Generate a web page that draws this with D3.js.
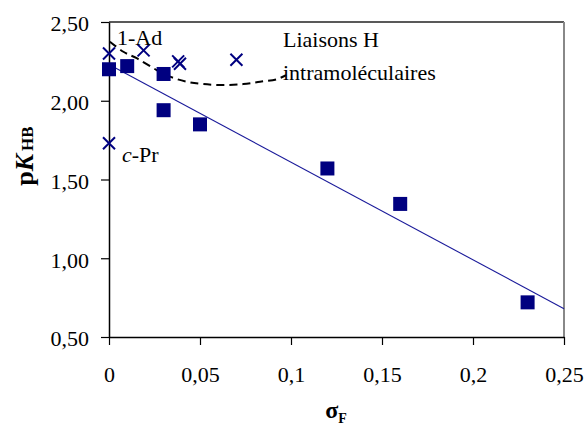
<!DOCTYPE html>
<html><head><meta charset="utf-8">
<script src="https://cdn.jsdelivr.net/npm/d3@7"></script>
<style>
html,body{margin:0;padding:0;background:#fff;}
svg{display:block;}
svg text{font-family:"Liberation Serif","Times New Roman","DejaVu Serif","Noto Serif",serif;}
</style></head>
<body>
<svg id="chart" width="588" height="428"></svg>
<script>
// Data
const squareX = [0, 0.01, 0.03, 0.03, 0.05, 0.12, 0.16, 0.23];
const squareY = [2.20, 2.22, 2.17, 1.94, 1.85, 1.57, 1.345, 0.72];
const crossX = [0, 0.019, 0.038, 0.039, 0.07, 0];
const crossY = [2.30, 2.32, 2.25, 2.235, 2.26, 1.73];
const trendX = [0, 0.25];
const trendY = [2.23, 0.68];
const curveX = [0.0005, 0.0079, 0.0152, 0.0262, 0.0335, 0.0427, 0.0518, 0.0628, 0.0738, 0.0830, 0.0921, 0.0973];
const curveY = [2.375, 2.311, 2.270, 2.195, 2.153, 2.121, 2.106, 2.100, 2.106, 2.121, 2.136, 2.163];
const xTicks = [0, 0.05, 0.1, 0.15, 0.2, 0.25];
const xTickLabels = ["0", "0,05", "0,1", "0,15", "0,2", "0,25"];
const yTicks = [0.5, 1.0, 1.5, 2.0, 2.5];
const yTickLabels = ["0,50", "1,00", "1,50", "2,00", "2,50"];

const svg = d3.select("#chart");
const L = 109, R = 564, T = 22, B = 337;
const x = d3.scaleLinear().domain([0, 0.25]).range([L, R]);
const y = d3.scaleLinear().domain([0.5, 2.5]).range([B, T]);
const navy = "#000080";
const serif = '"Liberation Serif","Times New Roman","DejaVu Serif","Noto Serif",serif';

// plot frame top and right
svg.append("line").attr("x1", L).attr("x2", R).attr("y1", T).attr("y2", T)
  .attr("stroke", "#222").attr("stroke-width", 1.5);
svg.append("line").attr("x1", R).attr("x2", R).attr("y1", T).attr("y2", B)
  .attr("stroke", "#888").attr("stroke-width", 2);

// axes
const yAxis = d3.axisLeft(y).tickValues(yTicks)
  .tickFormat((d, i) => yTickLabels[i]).tickSize(8).tickSizeOuter(0).tickPadding(12);
const gy = svg.append("g").attr("transform", `translate(${L},0)`).call(yAxis);
const xAxis = d3.axisBottom(x).tickValues(xTicks)
  .tickFormat((d, i) => xTickLabels[i]).tickSize(8).tickSizeOuter(0).tickPadding(21);
const gx = svg.append("g").attr("transform", `translate(0,${B})`).call(xAxis);
[gx, gy].forEach(g => {
  g.attr("font-family", null);
  g.select(".domain").attr("stroke", "#000").attr("stroke-width", 1.5);
  g.selectAll(".tick line").attr("stroke", "#000").attr("stroke-width", 1.2);
  g.selectAll("text").style("font-family", serif)
    .attr("font-size", 22).attr("fill", "#000");
});
gy.selectAll("text").attr("dy", "0.4em");

// trend line
svg.append("line")
  .attr("x1", x(trendX[0])).attr("y1", y(trendY[0]))
  .attr("x2", x(trendX[1])).attr("y2", y(trendY[1]))
  .attr("stroke", "#1a1a9a").attr("stroke-width", 1.1);

// dashed curve
svg.append("path")
  .datum(curveX.map((d, i) => [d, curveY[i]]))
  .attr("d", d3.line().x(d => x(d[0])).y(d => y(d[1])).curve(d3.curveCatmullRom))
  .attr("fill", "none").attr("stroke", "#000").attr("stroke-width", 2)
  .attr("stroke-dasharray", "8,5");

// squares
const sq = 14;
svg.selectAll("rect.sq").data(squareX.map((d, i) => [d, squareY[i]])).enter()
  .append("rect").attr("class", "sq")
  .attr("x", d => x(d[0]) - sq / 2).attr("y", d => y(d[1]) - sq / 2)
  .attr("width", sq).attr("height", sq).attr("fill", navy);

// crosses
const cs = 6;
const cr = svg.selectAll("g.cr").data(crossX.map((d, i) => [d, crossY[i]])).enter()
  .append("g").attr("class", "cr")
  .attr("transform", d => `translate(${x(d[0])},${y(d[1])})`);
cr.append("path").attr("d", `M${-cs},${-cs}L${cs},${cs}M${-cs},${cs}L${cs},${-cs}`)
  .attr("stroke", navy).attr("stroke-width", 2).attr("fill", "none");

// annotations
const txt = (s, px, py) => svg.append("text").attr("x", px).attr("y", py)
  .style("font-family", serif).attr("font-size", 22).attr("fill", "#000").text(s);
txt("1-Ad", 117, 45);
txt("Liaisons H", 283, 47);
txt("intramoléculaires", 283, 80);
const cp = svg.append("text").attr("x", 122).attr("y", 162).attr("font-size", 22).style("font-family", serif);
cp.append("tspan").attr("font-style", "italic").text("c");
cp.append("tspan").text("-Pr");

// y title
const yt = svg.append("text").attr("transform", "translate(33,156) rotate(-90)")
  .attr("text-anchor", "middle").attr("font-weight", "bold").attr("font-size", 26).style("font-family", serif);
yt.append("tspan").text("p");
yt.append("tspan").attr("font-style", "italic").text("K");
yt.append("tspan").attr("font-size", 17).attr("dx", 3).text("HB");

// x title
const xt = svg.append("text").attr("x", 336).attr("y", 418)
  .attr("text-anchor", "middle").attr("font-weight", "bold").attr("font-size", 24).style("font-family", serif);
xt.append("tspan").text("σ");
xt.append("tspan").attr("font-size", 14).attr("dy", 5).text("F");
</script>
</body></html>
